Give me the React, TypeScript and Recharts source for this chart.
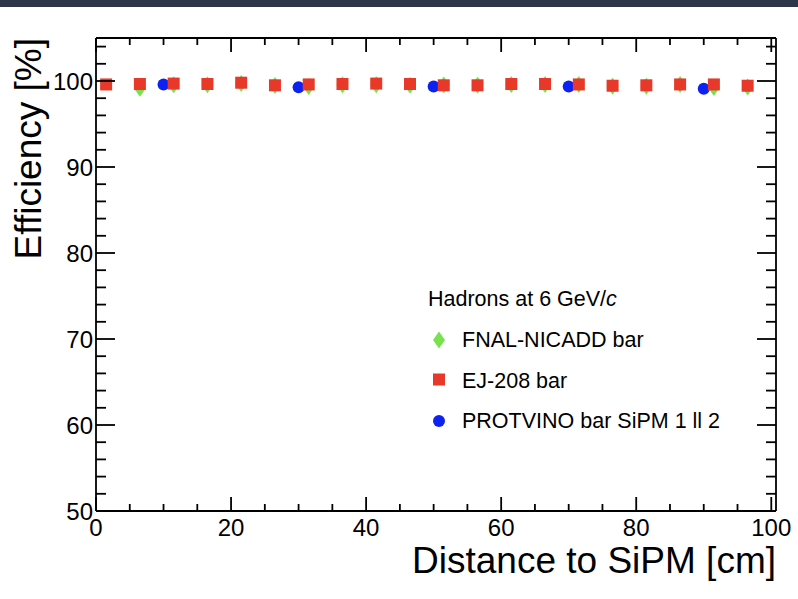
import React from "react";
import {
  ScatterChart,
  Scatter,
  XAxis,
  YAxis,
  Legend,
  Label,
} from "recharts";

// distance to SiPM [cm] and efficiency [%]
const fnalX = [6.5, 11.5, 16.5, 21.5, 26.5, 31.5, 36.5, 41.5, 46.5, 51.5, 56.5, 61.5, 66.5, 71.5, 76.5, 81.5, 86.5, 91.5, 96.5];
const fnalY = [99.16, 99.57, 99.57, 99.7, 99.48, 99.35, 99.57, 99.57, 99.5, 99.53, 99.5, 99.6, 99.6, 99.6, 99.38, 99.38, 99.6, 99.24, 99.3];

const ejX = [1.5, 6.5, 11.5, 16.5, 21.5, 26.5, 31.5, 36.5, 41.5, 46.5, 51.5, 56.5, 61.5, 66.5, 71.5, 76.5, 81.5, 86.5, 91.5, 96.5];
const ejY = [99.6, 99.65, 99.7, 99.65, 99.8, 99.5, 99.6, 99.65, 99.7, 99.65, 99.5, 99.5, 99.65, 99.65, 99.6, 99.45, 99.5, 99.6, 99.6, 99.45];

const protX = [10, 30, 50, 70, 90];
const protY = [99.6, 99.27, 99.35, 99.35, 99.1];

const xTicks = [0, 5, 10, 15, 20, 25, 30, 35, 40, 45, 50, 55, 60, 65, 70, 75, 80, 85, 90, 95, 100];
const yTicks = [50, 52, 54, 56, 58, 60, 62, 64, 66, 68, 70, 72, 74, 76, 78, 80, 82, 84, 86, 88, 90, 92, 94, 96, 98, 100, 102, 104];

const GREEN = "#78e24e";
const RED = "#e7382a";
const BLUE = "#0c22f2";
const FONT = "'Liberation Sans', Arial, Helvetica, sans-serif";
const LW = 1.8;

const fnal = fnalX.map((x, i) => ({ x, y: fnalY[i] }));
const ej = ejX.map((x, i) => ({ x, y: ejY[i] }));
const prot = protX.map((x, i) => ({ x, y: protY[i] }));

const Diamond = ({ cx, cy }: any) => (
  <path d={`M${cx},${cy - 8.5} L${cx + 6},${cy} L${cx},${cy + 8.5} L${cx - 6},${cy} Z`} fill={GREEN} />
);
const Square = ({ cx, cy }: any) => (
  <rect x={cx - 6} y={cy - 6} width={12} height={12} fill={RED} />
);
const Dot = ({ cx, cy }: any) => <circle cx={cx} cy={cy} r={6} fill={BLUE} />;

// tickSize/tickMargin are 0, so x,y is the point on the axis line
function makeTick(side: "left" | "right" | "top" | "bottom") {
  return (props: any) => {
    const { x, y, payload } = props;
    const v = payload.value;
    if (side === "left" || side === "right") {
      const major = v % 10 === 0;
      const len = major ? 19 : 10;
      const dir = side === "left" ? 1 : -1;
      return (
        <g>
          <line x1={x} y1={y} x2={x + dir * len} y2={y} stroke="#000" strokeWidth={LW} />
          {side === "left" && major && (
            <text x={x - 3} y={y + 8.5} textAnchor="end" fontSize={24} fontFamily={FONT} fill="#000">
              {v}
            </text>
          )}
        </g>
      );
    }
    const major = v % 20 === 0;
    const len = major ? 14 : 7;
    const dir = side === "bottom" ? -1 : 1;
    return (
      <g>
        <line x1={x} y1={y} x2={x} y2={y + dir * len} stroke="#000" strokeWidth={LW} />
        {side === "bottom" && major && (
          <text x={x} y={y + 25} textAnchor="middle" fontSize={24} fontFamily={FONT} fill="#000">
            {v}
          </text>
        )}
      </g>
    );
  };
}

const YTitle = (props: any) => {
  const { x, y, width } = props.viewBox;
  const tx = x + width - 55;
  return (
    <text x={tx} y={y} transform={`rotate(-90, ${tx}, ${y})`} textAnchor="end" fontSize={37} fontFamily={FONT} fill="#000">
      Efficiency [%]
    </text>
  );
};

const XTitle = (props: any) => {
  const { x, y, width } = props.viewBox;
  return (
    <text x={x + width} y={y + 62} textAnchor="end" fontSize={37} fontFamily={FONT} fill="#000">
      Distance to SiPM [cm]
    </text>
  );
};

const legendRows = [
  { label: "FNAL-NICADD bar", marker: "diamond" },
  { label: "EJ-208 bar", marker: "square" },
  { label: "PROTVINO bar SiPM 1 ll 2", marker: "dot" },
];

const LegendBox = () => (
  <svg width={360} height={160} style={{ display: "block" }}>
    <text x={18} y={26} fontSize={21.5} fontFamily={FONT} fill="#000">
      Hadrons at 6 GeV/<tspan fontStyle="italic">c</tspan>
    </text>
    {legendRows.map((r, i) => {
      const cy = [60, 99.5, 141][i];
      const by = [67, 108, 148][i];
      return (
        <g key={r.label}>
          {r.marker === "diamond" && <Diamond cx={29} cy={cy} />}
          {r.marker === "square" && <Square cx={29} cy={cy} />}
          {r.marker === "dot" && <Dot cx={29} cy={cy} />}
          <text x={52} y={by} fontSize={21.5} fontFamily={FONT} fill="#000">
            {r.label}
          </text>
        </g>
      );
    })}
  </svg>
);

export default function App() {
  const axisLine = { stroke: "#000", strokeWidth: LW };
  return (
    <div style={{ position: "absolute", left: 0, top: 0, width: 798, height: 599, background: "#fff" }}>
      <ScatterChart width={798} height={599} margin={{ top: 37, right: 21, bottom: 87, left: 95 }}>
        <XAxis
          xAxisId="bottom"
          type="number"
          dataKey="x"
          domain={[0, 100.7]}
          allowDataOverflow
          ticks={xTicks}
          interval={0}
          height={1}
          tickSize={0}
          tickMargin={0}
          tickLine={false}
          axisLine={axisLine}
          tick={makeTick("bottom")}
        >
          <Label content={XTitle} />
        </XAxis>
        <XAxis
          xAxisId="top"
          orientation="top"
          type="number"
          dataKey="x"
          domain={[0, 100.7]}
          allowDataOverflow
          ticks={xTicks}
          interval={0}
          height={1}
          tickSize={0}
          tickMargin={0}
          tickLine={false}
          axisLine={axisLine}
          tick={makeTick("top")}
        />
        <YAxis
          yAxisId="left"
          type="number"
          dataKey="y"
          domain={[50, 105]}
          allowDataOverflow
          ticks={yTicks}
          interval={0}
          width={1}
          tickSize={0}
          tickMargin={0}
          tickLine={false}
          axisLine={axisLine}
          tick={makeTick("left")}
        >
          <Label content={YTitle} />
        </YAxis>
        <YAxis
          yAxisId="right"
          orientation="right"
          type="number"
          dataKey="y"
          domain={[50, 105]}
          allowDataOverflow
          ticks={yTicks}
          interval={0}
          width={1}
          tickSize={0}
          tickMargin={0}
          tickLine={false}
          axisLine={axisLine}
          tick={makeTick("right")}
        />
        <Legend
          layout="vertical"
          align="center"
          verticalAlign="middle"
          content={LegendBox}
          wrapperStyle={{ left: 410, top: 280, width: 360, height: 160 }}
        />
        <Scatter name="FNAL-NICADD bar" data={fnal} xAxisId="bottom" yAxisId="left" shape={Diamond} isAnimationActive={false} />
        <Scatter name="PROTVINO bar SiPM 1 ll 2" data={prot} xAxisId="bottom" yAxisId="left" shape={Dot} isAnimationActive={false} />
        <Scatter name="EJ-208 bar" data={ej} xAxisId="bottom" yAxisId="left" shape={Square} isAnimationActive={false} />
      </ScatterChart>
      <div style={{ position: "absolute", left: 0, top: 0, width: 798, height: 7, background: "#2e3649" }} />
    </div>
  );
}
